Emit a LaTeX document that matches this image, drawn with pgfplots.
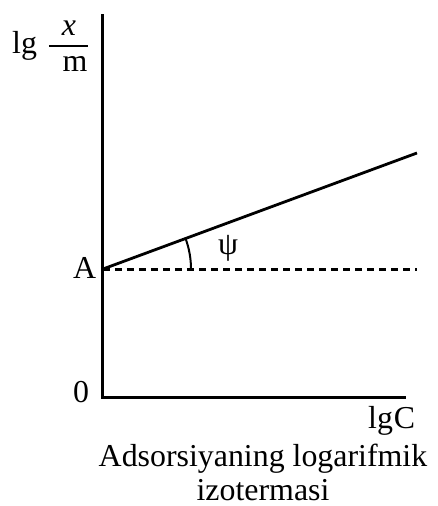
\documentclass[border=0pt]{standalone}
\usepackage{fontspec}
\setmainfont{Liberation Serif}
\usepackage{pgfplots}
\pgfplotsset{compat=1.18}
\tikzset{lab/.style={font=\fontsize{32}{36}\selectfont, inner sep=0pt}}

\begin{document}
\begin{tikzpicture}
% fixed page frame around the axis (origin of the axes at (0,0))
\useasboundingbox (-103bp,-109bp) rectangle (335bp,397bp);
\begin{axis}[
  x=1bp, y=1bp,
  anchor=origin, at={(0,0)},
  xmin=0, xmax=302, ymin=0, ymax=382,
  axis lines=left,
  axis line style={-, line width=3bp, line cap=rect},
  ticks=none,
  clip=false,
]
% lg(x/m) against lg C
\addplot[black, line width=2.8bp, no marks] coordinates {(0,128) (314,244)};
% level of A
\addplot[black, line width=3bp, no marks, dash pattern=on 7bp off 5bp] coordinates {(0,128) (314,128)};

% angle psi between the isotherm and the horizontal
\draw[line width=2bp] (axis cs:88,128) arc[start angle=0, end angle=20.3, radius=88bp];
\node[lab] at (axis cs:125,149) {ψ};

% axis labels
\node[lab, anchor=base west] at (axis cs:-91,344) {lg};
\draw[line width=2bp] (axis cs:-54,351) -- (axis cs:-15,351);
\node[lab, anchor=base] at (axis cs:-34,362) {\textit{x}};
\node[lab, anchor=base] at (axis cs:-28,326) {m};
\node[lab, anchor=base west] at (axis cs:-30,119) {A};
\node[lab, anchor=base west] at (axis cs:-30,-5) {0};
\node[lab, anchor=base west] at (axis cs:265,-31) {lg\kern1bp C};

% caption
\node[lab, anchor=base] at (axis cs:160,-69) {Adsorsiyaning logarifmik};
\node[lab, anchor=base] at (axis cs:160,-103) {izotermasi};
\end{axis}
\end{tikzpicture}
\end{document}
